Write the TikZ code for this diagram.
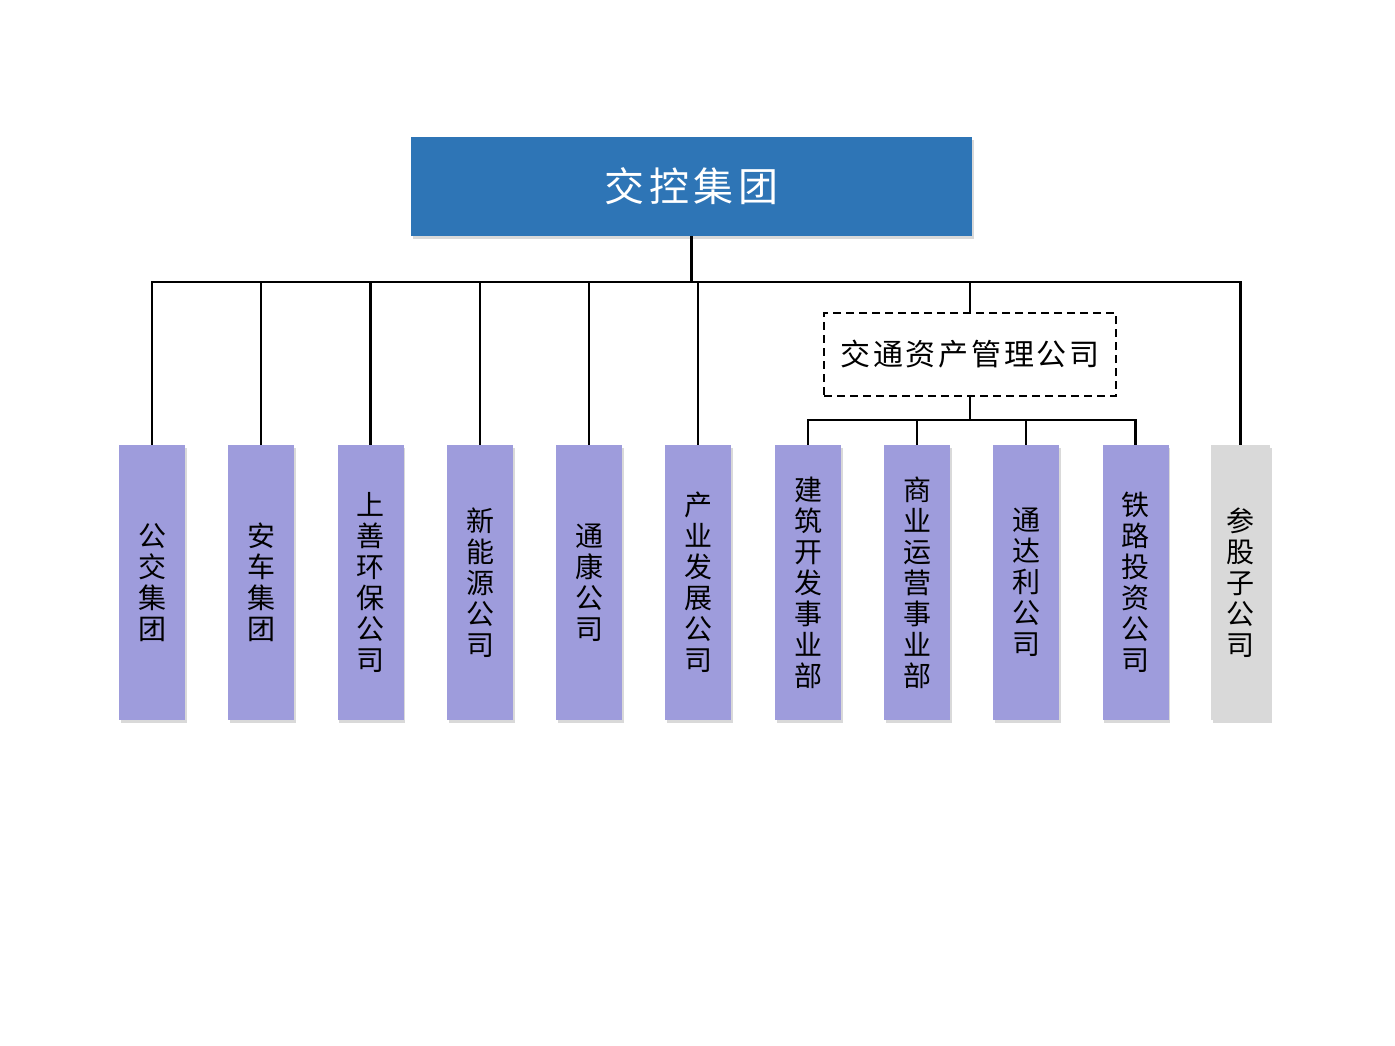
\documentclass[tikz,border=0pt]{standalone}
\usepackage{xcolor}
\usepackage{fontspec}
\setmainfont{Noto Sans CJK SC}
\newfontfamily\titlefont[LetterSpace=12]{Noto Sans CJK SC}
\newfontfamily\subfont[LetterSpace=9]{Noto Sans CJK SC}
\usepackage{tikz}
\usetikzlibrary{shadows}
\definecolor{topblue}{HTML}{2E75B6}
\definecolor{unitpurple}{HTML}{9E9CDC}
\definecolor{unitgray}{HTML}{D9D9D9}

\begin{document}
\begin{tikzpicture}[x=0.5pt, y=-0.5pt,
	top/.style={fill=topblue, minimum width=280.5pt, minimum height=49.5pt, inner sep=0pt, text=white, font=\titlefont\fontsize{20}{24}\selectfont, drop shadow={shadow xshift=1pt, shadow yshift=-1.5pt, opacity=0.3}},
	sub/.style={draw, line width=0.9pt, dash pattern=on 4pt off 2.5pt, minimum width=146pt, minimum height=41.5pt, inner sep=0pt, font=\subfont\fontsize{15}{18}\selectfont},
	unit/.style={fill=unitpurple, minimum width=33pt, minimum height=137.5pt, inner sep=0pt, align=center, font=\fontsize{14}{15.5}\selectfont, drop shadow={shadow xshift=0.8pt, shadow yshift=-1.5pt, opacity=0.3}},
	other/.style={unit, fill=unitgray, minimum width=29.5pt},
	link/.style={draw, line width=1.2pt}]
	\useasboundingbox (0,0) rectangle (1395,1045);

	%Noder
	\node[top] (top) at (691.5,186.5) {交控集团};
	\node[sub] (asset) at (970,354.5) {交通资产管理公司};

	\node[unit] (u1) at (152,582.5) {公\\交\\集\\团};
	\node[unit] (u2) at (261,582.5) {安\\车\\集\\团};
	\node[unit] (u3) at (370.5,582.5) {上\\善\\环\\保\\公\\司};
	\node[unit] (u4) at (480,582.5) {新\\能\\源\\公\\司};
	\node[unit] (u5) at (589,582.5) {通\\康\\公\\司};
	\node[unit] (u6) at (698,582.5) {产\\业\\发\\展\\公\\司};
	\node[unit] (u7) at (808,582.5) {建\\筑\\开\\发\\事\\业\\部};
	\node[unit] (u8) at (917,582.5) {商\\业\\运\\营\\事\\业\\部};
	\node[unit] (u9) at (1026,582.5) {通\\达\\利\\公\\司};
	\node[unit] (u10) at (1135.5,582.5) {铁\\路\\投\\资\\公\\司};
	\node[other] (u11) at (1240.5,582.5) {参\\股\\子\\公\\司};

	\coordinate (bus) at (691.5,282);
	\coordinate (subbus) at (970,420);

	%Linjer
	\draw[link] (top.south) -- (bus);
	\draw[link] (bus) -| (u1.north);
	\draw[link] (bus) -| (u2.north);
	\draw[link] (bus) -| (u3.north);
	\draw[link] (bus) -| (u4.north);
	\draw[link] (bus) -| (u5.north);
	\draw[link] (bus) -| (u6.north);
	\draw[link] (bus) -| (asset.north);
	\draw[link] (bus) -| (u11.north);

	\draw[link] (asset.south) -- (subbus);
	\draw[link] (subbus) -| (u7.north);
	\draw[link] (subbus) -| (u8.north);
	\draw[link] (subbus) -| (u9.north);
	\draw[link] (subbus) -| (u10.north);
\end{tikzpicture}
\end{document}
